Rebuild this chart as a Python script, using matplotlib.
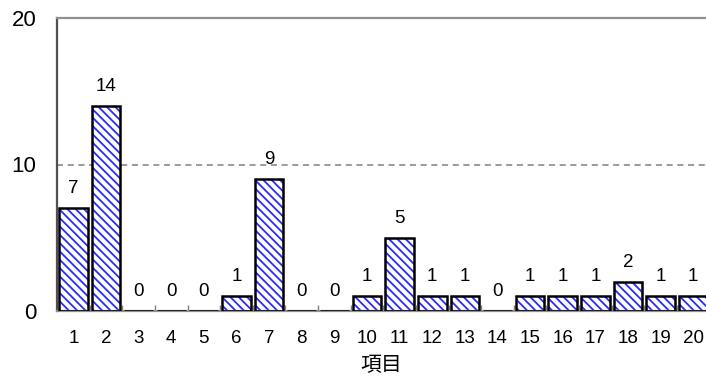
import matplotlib.pyplot as plt
from matplotlib.ticker import FixedLocator

plt.rcParams['font.family'] = ['Liberation Sans', 'Noto Sans CJK JP', 'DejaVu Sans']
plt.rcParams['hatch.linewidth'] = 1.3

items = list(range(1, 21))
counts = [7, 14, 0, 0, 0, 1, 9, 0, 0, 1, 5, 1, 1, 0, 1, 1, 1, 2, 1, 1]

fig = plt.figure(figsize=(7.06, 3.85), dpi=100)
ax = fig.add_axes([57 / 706, 74 / 385, 1 - 57 / 706, 293 / 385])

# hatched fill first, then black outlines on top
ax.bar(items, counts, width=0.88, color='white', edgecolor='#2a2aff',
       hatch='\\' * 4, linewidth=0, zorder=2)
ax.bar(items, counts, width=0.88, color='none', edgecolor='black',
       linewidth=1.8, zorder=3)

for x, v in zip(items, counts):
    ax.text(x, v + 0.75, str(v), ha='center', va='bottom', fontsize=13.5)

ax.axhline(10, color='#808080', linestyle=(0, (4, 3)), linewidth=1.1, zorder=1)

# right end runs a little past the figure edge
ax.set_xlim(0.5, 20.39)
ax.set_ylim(0, 20)
ax.set_yticks([0, 10, 20])
ax.set_xticks(items)
ax.xaxis.set_minor_locator(FixedLocator([i + 0.5 for i in range(0, 21)]))
ax.tick_params(axis='x', which='major', length=0, pad=13.5, labelsize=13.5)
ax.tick_params(axis='x', which='minor', direction='in', length=4,
               color='#808080', width=1)
ax.tick_params(axis='y', length=0, pad=15, labelsize=16)

for side in ['top', 'bottom']:
    ax.spines[side].set_color('#909090')
    ax.spines[side].set_linewidth(1.6)
ax.spines['left'].set_color('#505050')
ax.spines['left'].set_linewidth(1.6)
ax.spines['right'].set_visible(False)

ax.set_xlabel('項目', fontsize=15, labelpad=7)

fig.savefig('out.png', dpi=100)
